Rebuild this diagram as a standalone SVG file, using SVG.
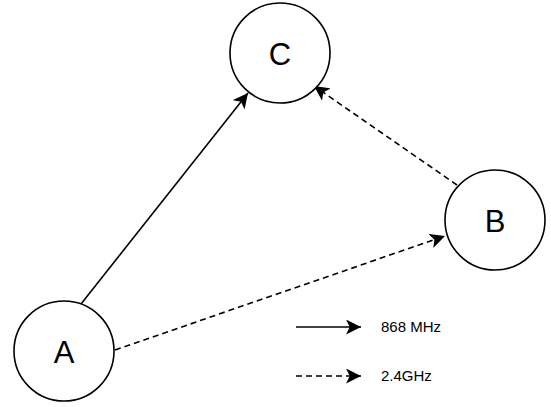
<svg xmlns="http://www.w3.org/2000/svg" width="551" height="407" viewBox="0 0 551 407">
<defs>
<marker id="arr" viewBox="-15 -7.5 15 15" refX="0" refY="0" markerWidth="15" markerHeight="15" markerUnits="userSpaceOnUse" orient="auto">
<path d="M0,0 L-15,-7.5 L-11.25,0 L-15,7.5 Z" fill="#000"/>
</marker>
</defs>
<style>
.node{fill:#fff;stroke:#000;stroke-width:1.6}
.lbl{font-family:"Liberation Sans",Arial,sans-serif;font-size:31px;fill:#000;text-anchor:middle;dominant-baseline:central}
.leg{font-family:"Liberation Sans",Arial,sans-serif;font-size:15px;fill:#000}
.edge{fill:none;stroke:#000;stroke-width:1.6}
.dash{stroke-dasharray:6 4}
</style>
<rect width="551" height="407" fill="#fff"/>
<g id="connectors">
<path class="edge" d="M81,304 L248,93" marker-end="url(#arr)"/>
<path class="edge dash" d="M115,350 L445,236" marker-end="url(#arr)"/>
<path class="edge dash" d="M457,185 L314,86" marker-end="url(#arr)"/>
</g>
<g id="C"><circle class="node" cx="280" cy="53" r="50"/><text class="lbl" x="280" y="54">C</text></g>
<g id="B"><circle class="node" cx="495" cy="220" r="50"/><text class="lbl" x="495" y="221">B</text></g>
<g id="A"><circle class="node" cx="64" cy="351" r="50"/><text class="lbl" x="64" y="352">A</text></g>
<g id="legend">
<path class="edge" d="M296,327 L361,327" marker-end="url(#arr)"/>
<path class="edge dash" d="M296,376 L361,376" marker-end="url(#arr)"/>
<text class="leg" x="381" y="332">868 MHz</text>
<text class="leg" x="381" y="381">2.4GHz</text>
</g>
</svg>
